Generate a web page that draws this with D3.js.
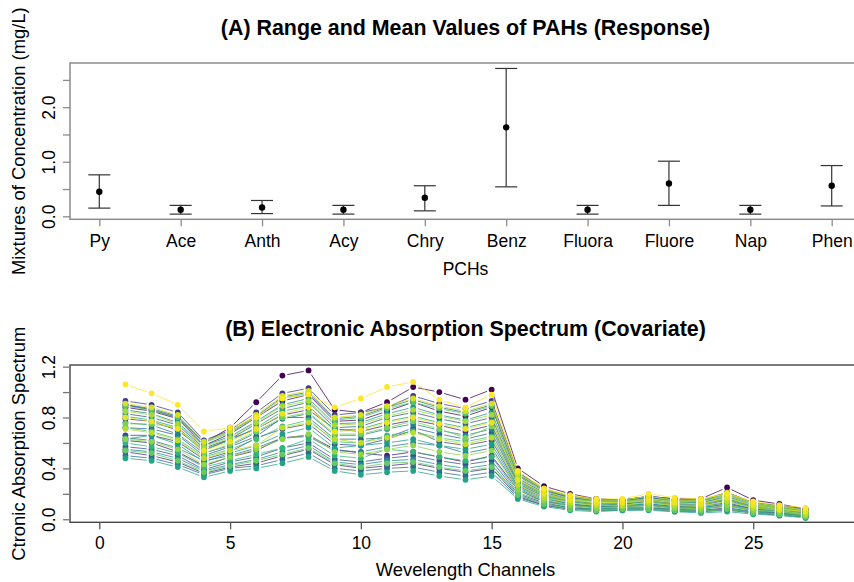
<!DOCTYPE html>
<html>
<head>
<meta charset="utf-8">
<script src="https://cdn.jsdelivr.net/npm/d3@7"></script>
<style>
  body { margin: 0; background: #fff; }
  svg { font-family: "Liberation Sans", Arial, sans-serif; }
</style>
</head>
<body>
<div id="chart"></div>
<script>
////////////////////  data for panel A : range and mean of each PAH  ////////////////////
var pahNames = ["Py", "Ace", "Anth", "Acy", "Chry", "Benz", "Fluora", "Fluore", "Nap", "Phen"];
var pahLower = [0.15, 0.04, 0.05, 0.04, 0.10, 0.54, 0.04, 0.20, 0.04, 0.19];
var pahMean  = [0.45, 0.12, 0.16, 0.12, 0.34, 1.63, 0.12, 0.60, 0.12, 0.56];
var pahUpper = [0.76, 0.20, 0.29, 0.20, 0.56, 2.71, 0.20, 1.01, 0.20, 0.93];
var yTicksA  = [0, 0.5, 1.0, 1.5, 2.0, 2.5];

////////////////////  data for panel B : absorption spectra, one array per sample  ////////////////////
var channels = [1,2,3,4,5,6,7,8,9,10,11,12,13,14,15,16,17,18,19,20,21,22,23,24,25,26,27];
var xTicksB  = [0, 5, 10, 15, 20, 25];
var yTicksB  = [0, 0.2, 0.4, 0.6, 0.8, 1.0, 1.2];

var s01 = [0.90,0.86,0.80,0.60,0.72,0.92,1.13,1.17,0.86,0.84,0.92,1.04,1.00,0.94,1.02,0.40,0.26,0.20,0.16,0.15,0.18,0.16,0.16,0.25,0.15,0.12,0.08];
var s02 = [0.88,0.85,0.79,0.58,0.67,0.80,0.93,0.98,0.77,0.78,0.85,0.92,0.85,0.81,0.88,0.35,0.23,0.17,0.15,0.15,0.17,0.15,0.14,0.21,0.13,0.10,0.07];
var s03 = [0.62,0.60,0.53,0.42,0.49,0.54,0.64,0.66,0.55,0.52,0.50,0.53,0.49,0.45,0.50,0.23,0.14,0.11,0.09,0.10,0.11,0.09,0.08,0.11,0.07,0.05,0.03];
var s04 = [0.79,0.77,0.70,0.54,0.63,0.71,0.82,0.86,0.71,0.69,0.74,0.78,0.74,0.69,0.74,0.30,0.20,0.15,0.12,0.13,0.15,0.12,0.12,0.16,0.10,0.08,0.06];
var s05 = [0.53,0.50,0.45,0.36,0.41,0.44,0.50,0.55,0.43,0.40,0.42,0.44,0.40,0.37,0.40,0.18,0.11,0.08,0.07,0.08,0.08,0.07,0.06,0.08,0.05,0.04,0.02];
var s06 = [0.93,0.90,0.84,0.62,0.70,0.84,0.99,1.03,0.82,0.84,0.88,0.97,0.91,0.87,0.93,0.37,0.24,0.18,0.16,0.15,0.18,0.16,0.15,0.21,0.13,0.11,0.08];
var s07 = [0.66,0.66,0.61,0.47,0.53,0.64,0.71,0.75,0.59,0.58,0.63,0.70,0.61,0.58,0.62,0.26,0.17,0.12,0.10,0.11,0.12,0.10,0.10,0.13,0.08,0.07,0.04];
var s08 = [0.57,0.55,0.50,0.39,0.45,0.49,0.56,0.60,0.47,0.45,0.48,0.50,0.46,0.43,0.46,0.20,0.13,0.09,0.08,0.09,0.09,0.08,0.07,0.09,0.06,0.05,0.02];
var s09 = [0.83,0.80,0.74,0.56,0.63,0.75,0.87,0.92,0.72,0.73,0.80,0.84,0.79,0.75,0.80,0.32,0.21,0.16,0.14,0.14,0.16,0.13,0.13,0.18,0.11,0.09,0.06];
var s10 = [0.72,0.71,0.66,0.50,0.57,0.65,0.80,0.80,0.63,0.63,0.64,0.72,0.67,0.63,0.68,0.28,0.18,0.14,0.11,0.12,0.14,0.11,0.11,0.15,0.09,0.07,0.05];
var s11 = [0.50,0.48,0.43,0.35,0.40,0.42,0.47,0.52,0.40,0.38,0.40,0.41,0.37,0.34,0.37,0.17,0.11,0.08,0.07,0.07,0.08,0.06,0.06,0.07,0.05,0.03,0.02];
var s12 = [0.90,0.87,0.81,0.61,0.69,0.81,0.96,1.00,0.79,0.81,0.88,0.94,0.88,0.84,0.90,0.36,0.24,0.18,0.15,0.15,0.18,0.15,0.15,0.20,0.13,0.10,0.07];
var s13 = [0.64,0.62,0.56,0.46,0.50,0.56,0.64,0.65,0.54,0.53,0.57,0.60,0.58,0.52,0.56,0.24,0.15,0.11,0.10,0.10,0.11,0.09,0.09,0.12,0.08,0.06,0.03];
var s14 = [0.76,0.74,0.67,0.52,0.58,0.68,0.79,0.83,0.66,0.66,0.71,0.75,0.70,0.66,0.71,0.29,0.19,0.14,0.12,0.12,0.14,0.12,0.12,0.16,0.10,0.08,0.05];
var s15 = [0.55,0.53,0.48,0.38,0.43,0.47,0.53,0.58,0.45,0.43,0.46,0.47,0.43,0.40,0.43,0.19,0.12,0.09,0.08,0.08,0.09,0.07,0.07,0.08,0.06,0.04,0.02];
var s16 = [0.86,0.83,0.76,0.58,0.65,0.77,0.90,0.95,0.75,0.76,0.83,0.88,0.82,0.78,0.84,0.34,0.22,0.17,0.14,0.14,0.17,0.14,0.14,0.19,0.12,0.09,0.07];
var s17 = [0.63,0.66,0.59,0.45,0.52,0.58,0.67,0.72,0.56,0.58,0.60,0.63,0.58,0.55,0.59,0.25,0.16,0.12,0.10,0.11,0.12,0.10,0.09,0.12,0.08,0.06,0.04];
var s18 = [0.48,0.46,0.41,0.33,0.38,0.40,0.44,0.49,0.38,0.35,0.37,0.38,0.34,0.31,0.34,0.16,0.10,0.07,0.06,0.07,0.07,0.06,0.05,0.06,0.04,0.03,0.01];
var s19 = [0.81,0.78,0.72,0.55,0.62,0.72,0.85,0.89,0.70,0.71,0.77,0.81,0.76,0.72,0.77,0.31,0.20,0.15,0.13,0.13,0.15,0.13,0.13,0.17,0.11,0.09,0.06];
var s20 = [0.60,0.57,0.52,0.41,0.46,0.51,0.56,0.63,0.50,0.48,0.55,0.53,0.49,0.46,0.49,0.21,0.14,0.10,0.08,0.09,0.10,0.08,0.08,0.10,0.07,0.05,0.03];
var s21 = [0.72,0.69,0.63,0.49,0.55,0.63,0.73,0.78,0.61,0.60,0.66,0.69,0.64,0.61,0.65,0.27,0.18,0.13,0.11,0.11,0.13,0.11,0.10,0.14,0.09,0.07,0.04];
var s22 = [0.89,0.86,0.80,0.60,0.68,0.80,0.95,0.99,0.78,0.80,0.87,0.92,0.87,0.83,0.89,0.35,0.23,0.18,0.15,0.15,0.18,0.15,0.15,0.20,0.13,0.10,0.07];
var s23 = [0.54,0.52,0.46,0.37,0.42,0.46,0.51,0.56,0.44,0.41,0.44,0.45,0.41,0.38,0.41,0.19,0.12,0.08,0.07,0.08,0.08,0.07,0.06,0.08,0.05,0.04,0.02];
var s24 = [0.75,0.75,0.72,0.52,0.59,0.69,0.80,0.84,0.67,0.67,0.72,0.77,0.71,0.64,0.73,0.30,0.19,0.14,0.12,0.13,0.14,0.12,0.12,0.16,0.10,0.08,0.05];
var s25 = [0.63,0.61,0.55,0.43,0.49,0.55,0.63,0.67,0.53,0.51,0.55,0.58,0.53,0.50,0.54,0.23,0.15,0.11,0.09,0.10,0.11,0.09,0.08,0.11,0.07,0.06,0.03];
var s26 = [0.85,0.82,0.75,0.57,0.64,0.76,0.89,0.93,0.74,0.75,0.81,0.86,0.81,0.77,0.82,0.33,0.22,0.16,0.14,0.14,0.16,0.14,0.14,0.19,0.12,0.09,0.06];
var s27 = [0.71,0.68,0.62,0.48,0.54,0.58,0.72,0.76,0.63,0.60,0.64,0.68,0.63,0.59,0.64,0.27,0.17,0.13,0.11,0.11,0.13,0.11,0.10,0.14,0.09,0.07,0.04];
var s28 = [0.91,0.88,0.82,0.61,0.69,0.82,0.97,1.01,0.80,0.82,0.89,0.95,0.89,0.85,0.91,0.36,0.24,0.18,0.15,0.15,0.18,0.15,0.15,0.21,0.13,0.10,0.07];
var s29 = [0.80,0.77,0.71,0.54,0.61,0.71,0.83,0.88,0.69,0.70,0.76,0.80,0.75,0.71,0.76,0.31,0.20,0.15,0.13,0.13,0.15,0.13,0.12,0.17,0.11,0.08,0.06];
var s30 = [1.06,0.99,0.90,0.69,0.72,0.80,0.95,0.98,0.88,0.95,1.04,1.08,0.94,0.88,0.98,0.38,0.24,0.19,0.16,0.16,0.20,0.17,0.16,0.20,0.14,0.11,0.09];

var spectra = [s01,s02,s03,s04,s05,s06,s07,s08,s09,s10,s11,s12,s13,s14,s15,
               s16,s17,s18,s19,s20,s21,s22,s23,s24,s25,s26,s27,s28,s29,s30];

//////////////////////////////// set up the svg ////////////////////////////////
var svgWidth = 854, svgHeight = 582;
var svg = d3.select("#chart").append("svg")
  .attr("width", svgWidth).attr("height", svgHeight);

var plotLeft = 70, plotRight = 861;   // right edge falls just outside the picture
var tickFont = 17.5, titleFont = 18.4;

//////////////////////////////// panel A ////////////////////////////////
var topA = 63, bottomA = 219.3;
var xA = d3.scaleLinear().domain([0.64, 10.36]).range([plotLeft, plotRight]);
var yA = d3.scaleLinear().domain([-0.055, 2.81]).range([bottomA, topA]);

svg.append("text")
  .attr("x", (plotLeft + plotRight) / 2).attr("y", 35)
  .attr("text-anchor", "middle").attr("font-size", 21.4).attr("font-weight", "bold")
  .text("(A) Range and Mean Values of PAHs (Response)");

svg.append("rect")
  .attr("x", plotLeft).attr("y", topA)
  .attr("width", plotRight - plotLeft).attr("height", bottomA - topA)
  .attr("fill", "none").attr("stroke", "#8c8c8c").attr("stroke-width", 1.5);

var xAxisA = svg.append("g")
  .attr("transform", `translate(0,${bottomA})`)
  .call(d3.axisBottom(xA).tickValues(d3.range(1, pahNames.length + 1))
    .tickSize(7).tickFormat(i => pahNames[i - 1]));
xAxisA.select(".domain").remove();
xAxisA.selectAll("line").attr("stroke", "#8c8c8c").attr("stroke-width", 1.3);
xAxisA.selectAll("text").attr("y", 27.7).attr("dy", 0)
  .attr("font-size", tickFont).attr("fill", "#000");

var yAxisA = svg.append("g")
  .attr("transform", `translate(${plotLeft},0)`)
  .call(d3.axisLeft(yA).tickValues(yTicksA).tickSize(7)
    .tickFormat(d => d % 1 === 0 ? d3.format(".1f")(d) : ""));
yAxisA.select(".domain").remove();
yAxisA.selectAll("line").attr("stroke", "#8c8c8c").attr("stroke-width", 1.3);
yAxisA.selectAll("text")
  .attr("transform", "rotate(-90)").attr("x", 0).attr("y", -15.5).attr("dy", 0)
  .attr("text-anchor", "middle").attr("font-size", tickFont).attr("fill", "#000");

svg.append("text")
  .attr("transform", `translate(25,${(topA + bottomA) / 2}) rotate(-90)`)
  .attr("text-anchor", "middle").attr("font-size", titleFont)
  .text("Mixtures of Concentration (mg/L)");

svg.append("text")
  .attr("x", (plotLeft + plotRight) / 2).attr("y", 275)
  .attr("text-anchor", "middle").attr("font-size", tickFont)
  .text("PCHs");

// error bars
var capHalf = 11;
var bars = svg.append("g").selectAll("g")
  .data(pahNames.map((n, i) => ({ i: i + 1, lo: pahLower[i], mid: pahMean[i], hi: pahUpper[i] })))
  .enter().append("g").attr("stroke", "#333").attr("stroke-width", 1.2);

bars.append("line")
  .attr("x1", d => xA(d.i)).attr("x2", d => xA(d.i))
  .attr("y1", d => yA(d.lo)).attr("y2", d => yA(d.hi));
bars.append("line")
  .attr("x1", d => xA(d.i) - capHalf).attr("x2", d => xA(d.i) + capHalf)
  .attr("y1", d => yA(d.hi)).attr("y2", d => yA(d.hi));
bars.append("line")
  .attr("x1", d => xA(d.i) - capHalf).attr("x2", d => xA(d.i) + capHalf)
  .attr("y1", d => yA(d.lo)).attr("y2", d => yA(d.lo));
bars.append("circle")
  .attr("cx", d => xA(d.i)).attr("cy", d => yA(d.mid))
  .attr("r", 3.2).attr("fill", "#000").attr("stroke", "none");

//////////////////////////////// panel B ////////////////////////////////
var topB = 365, bottomB = 522.3;
var xB = d3.scaleLinear().domain([-1.12, 29.12]).range([plotLeft, plotRight]);
var yB = d3.scaleLinear().domain([-0.024, 1.213]).range([bottomB, topB]);

svg.append("text")
  .attr("x", (plotLeft + plotRight) / 2).attr("y", 336)
  .attr("text-anchor", "middle").attr("font-size", 21.4).attr("font-weight", "bold")
  .text("(B) Electronic Absorption Spectrum (Covariate)");

svg.append("rect")
  .attr("x", plotLeft).attr("y", topB)
  .attr("width", plotRight - plotLeft).attr("height", bottomB - topB)
  .attr("fill", "none").attr("stroke", "#444").attr("stroke-width", 1.4);

var xAxisB = svg.append("g")
  .attr("transform", `translate(0,${bottomB})`)
  .call(d3.axisBottom(xB).tickValues(xTicksB).tickSize(7));
xAxisB.select(".domain").remove();
xAxisB.selectAll("line").attr("stroke", "#555").attr("stroke-width", 1.3);
xAxisB.selectAll("text").attr("y", 27).attr("dy", 0)
  .attr("font-size", tickFont).attr("fill", "#000");

var yAxisB = svg.append("g")
  .attr("transform", `translate(${plotLeft},0)`)
  .call(d3.axisLeft(yB).tickValues(yTicksB).tickSize(7)
    .tickFormat((d, i) => i % 2 === 0 ? d3.format(".1f")(d) : ""));
yAxisB.select(".domain").remove();
yAxisB.selectAll("line").attr("stroke", "#777").attr("stroke-width", 1.3);
yAxisB.selectAll("text")
  .attr("transform", "rotate(-90)").attr("x", 0).attr("y", -15.5).attr("dy", 0)
  .attr("text-anchor", "middle").attr("font-size", tickFont).attr("fill", "#000");

svg.append("text")
  .attr("transform", `translate(25,${(topB + bottomB) / 2}) rotate(-90)`)
  .attr("text-anchor", "middle").attr("font-size", titleFont)
  .text("Ctronic Absorption Spectrum");

svg.append("text")
  .attr("x", (plotLeft + plotRight) / 2).attr("y", 576)
  .attr("text-anchor", "middle").attr("font-size", titleFont)
  .text("Wevelength Channels");

// spectra: points joined by short segments that stop short of each point (R type = "b")
var color = i => d3.interpolateViridis(i / (spectra.length - 1));
var gap = 5;

spectra.forEach(function (vals, k) {
  var pts = vals.map((v, j) => [xB(channels[j]), yB(v)]);
  var g = svg.append("g");
  for (var j = 0; j < pts.length - 1; j++) {
    var dx = pts[j + 1][0] - pts[j][0], dy = pts[j + 1][1] - pts[j][1];
    var len = Math.sqrt(dx * dx + dy * dy);
    if (len <= 2 * gap) continue;
    var ux = dx / len, uy = dy / len;
    g.append("line")
      .attr("x1", pts[j][0] + ux * gap).attr("y1", pts[j][1] + uy * gap)
      .attr("x2", pts[j + 1][0] - ux * gap).attr("y2", pts[j + 1][1] - uy * gap)
      .attr("stroke", color(k)).attr("stroke-width", 0.9).attr("opacity", 0.85);
  }
  g.selectAll("circle").data(pts).enter().append("circle")
    .attr("cx", p => p[0]).attr("cy", p => p[1])
    .attr("r", 2.9).attr("fill", color(k));
});
</script>
</body>
</html>
